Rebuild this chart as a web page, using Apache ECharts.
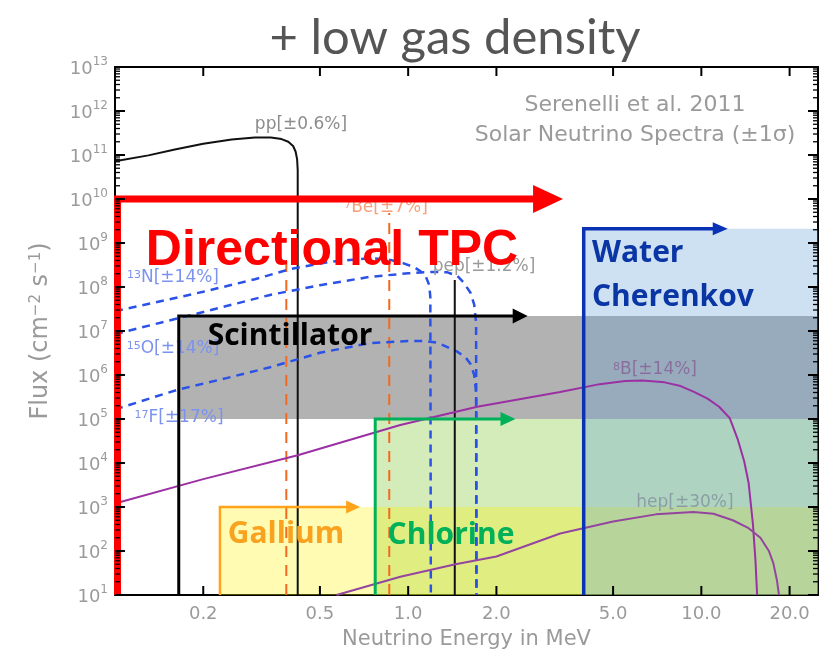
<!DOCTYPE html>
<html><head><meta charset="utf-8">
<script src="https://cdn.jsdelivr.net/npm/echarts@6/dist/echarts.min.js"></script>
<style>html,body{margin:0;padding:0;background:#fff}#c{width:834px;height:654px}</style>
</head><body><div id="c"></div>
<script>
// ---------- axes ----------
const xRange = [0.1, 25];
const yRange = [10, 1e13];
const xTickValues = [0.2, 0.5, 1, 2, 5, 10, 20];
const yDecadeExponents = [1,2,3,4,5,6,7,8,9,10,11,12,13];

// ---------- solar neutrino spectra [E (MeV), flux] ----------
const ppSpectrum = [[0.1,7.2e10],[0.13,9.8e10],[0.16,1.33e11],[0.2,1.8e11],[0.25,2.25e11],[0.3,2.5e11],[0.34,2.5e11],[0.37,2.3e11],[0.39,2e11],[0.405,1.6e11],[0.413,1.2e11],[0.418,8e10],[0.42,4.5e10],[0.42,10]];
const be7LineLow = [[0.384,10],[0.384,4.5e8]];
const be7LineHigh = [[0.862,10],[0.862,4.8e9]];
const n13Spectrum = [[0.1,2.8e7],[0.2,7.8e7],[0.3,1.5e8],[0.4,2.6e8],[0.55,3.8e8],[0.74,4.5e8],[0.86,4.2e8],[0.96,3.5e8],[1.05,2.8e8],[1.1,2.3e8],[1.15,1.7e8],[1.18,1.1e8],[1.19,6e7],[1.195,10]];
const o15Spectrum = [[0.1,8.5e6],[0.2,2.7e7],[0.338,6.6e7],[0.5,1.1e8],[0.74,1.7e8],[1.0,2.05e8],[1.2,2.2e8],[1.36,2.15e8],[1.47,1.8e8],[1.54,1.3e8],[1.63,7.5e7],[1.68,4e7],[1.705,1.5e7],[1.71,10]];
const f17Spectrum = [[0.1,1.65e5],[0.163,4.6e5],[0.24,8.5e5],[0.338,1.5e6],[0.5,3.2e6],[0.74,5.3e6],[1.0,5.9e6],[1.15,5.9e6],[1.26,5.4e6],[1.47,3.4e6],[1.57,2.5e6],[1.63,1.8e6],[1.68,1e6],[1.705,4e5],[1.71,10]];
const pepLine = [[1.442,10],[1.442,1.45e8]];
const b8Spectrum = [[0.1,1.2e3],[0.2,4.3e3],[0.42,1.5e4],[0.94,7.3e4],[1.72,1.9e5],[3.3,4.1e5],[4.5,6.2e5],[5.5,7.3e5],[6.3,7.5e5],[7.5,6.8e5],[8.5,5.6e5],[9.4,4.2e5],[10.5,2.9e5],[11.5,1.9e5],[12.5,1.05e5],[13.3,3.5e4],[14,1.1e4],[14.5,3.5e3],[15,4e2],[15.3,60],[15.5,10]];
const hepSpectrum = [[0.57,10],[0.94,26],[1.45,50],[2.0,75],[3.3,250],[5,470],[7,680],[9.4,770],[11,700],[12.8,500],[14.5,330],[15.9,200],[17,100],[17.6,53],[18.1,22],[18.4,10]];

// ---------- detector regions: vertical threshold line, top edge, arrow head ----------
const tpcOutline = [[0.102,10],[0.102,1e10],[3.0,1e10]];
const scintOutline = [[0.165,10],[0.165,2.2e7],[2.41,2.2e7]];
const waterOutline = [[3.97,10],[3.97,2.1e9],[11.6,2.1e9]];
const chlorineOutline = [[0.772,10],[0.772,1e5],[2.19,1e5]];
const galliumOutline = [[0.228,10],[0.228,1e3],[0.649,1e3]];
const scintArea = [[0.165,1e5],[25,2.2e7]];
const chlorineArea = [[0.772,10],[25,1e5]];
const galliumArea = [[0.228,10],[25,1e3]];
const waterArea = [[3.97,10],[25,2.1e9]];

const FONT = "'DejaVu Sans', sans-serif";
const chart = echarts.init(document.getElementById('c'), null, {renderer:'canvas'});

function curve(name, data, color, width, dash, z) {
  return {name, type:'line', data, showSymbol:false, symbol:'none', silent:true,
    xAxisIndex:0, yAxisIndex:0, z: z || 2,
    lineStyle:{color, width, type: dash || 'solid'}, animation:false};
}
function area(name, box, color, z) {
  return {name, type:'line', data:[], xAxisIndex:0, yAxisIndex:0, z, silent:true, animation:false,
    markArea:{silent:true, itemStyle:{color, borderWidth:0},
      data:[[{coord:box[0]},{coord:box[1]}]]}};
}
function outline(name, pts, color, width, head) {
  const n = pts.length;
  const b = pts[n-1];
  const back = [Math.pow(10, Math.log10(b[0]) - 0.02), b[1]];
  return {name, type:'line', data:pts, showSymbol:false, symbol:'none', silent:true, z:10, animation:false,
    xAxisIndex:0, yAxisIndex:0,
    lineStyle:{color, width, join:'miter', cap:'butt'},
    markLine:{silent:true, animation:false, symbol:['none','triangle'], symbolSize:head,
      label:{show:false}, lineStyle:{color, width, type:'solid'},
      data:[[{coord:back},{coord:b}]]}};
}

const majorTicks = yDecadeExponents.map(e => Math.pow(10,e));
const minorTicks = [];
yDecadeExponents.slice(0,-1).forEach(e => { for (let k=2;k<=9;k++) minorTicks.push(k*Math.pow(10,e)); });

const yBase = {type:'log', logBase:10, min:yRange[0], max:yRange[1], splitLine:{show:false},
  axisTick:{show:false}, axisLine:{show:true, lineStyle:{color:'#000', width:2}}};
const xBase = {type:'log', logBase:10, min:xRange[0], max:xRange[1], splitLine:{show:false},
  axisTick:{show:false}, axisLine:{show:true, lineStyle:{color:'#000', width:2}}};

const labelColor = '#9a9a9a';
let gid = 0;
const txt = (x, y, text, font, fill, align, z, rich) => ({id:'t'+(gid++), type:'text', x, y, z: z||100, silent:true,
  style:{text, font, fill, textAlign: align||'center', textVerticalAlign:'middle', rich: rich}});
const supRich = (color, size) => ({sup:{fontSize:size, fill:color, color, fontFamily:FONT, verticalAlign:'top', lineHeight:size+2}});

const option = {
  animation:false,
  backgroundColor:'#fff',
  grid:{left:115, right:16, top:67, bottom:59, containLabel:false, outerBoundsMode:'none'},
  xAxis:[
    Object.assign({}, xBase, {position:'bottom',
      name:'Neutrino Energy in MeV', nameLocation:'middle', nameGap:34,
      nameTextStyle:{color:labelColor, fontSize:21, fontFamily:FONT},
      axisLabel:{show:true, customValues:xTickValues, color:labelColor, fontSize:18, fontFamily:FONT, margin:10,
        formatter: v => Number(v).toFixed(1)}}),
    Object.assign({}, xBase, {position:'top', axisLabel:{show:false}})
  ],
  yAxis:[
    Object.assign({}, yBase, {position:'left', interval:1,
      name:'Flux (cm{sup|−2} s{sup|−1})', nameLocation:'middle', nameGap:62, nameRotate:90,
      nameTextStyle:{color:labelColor, fontSize:24, fontFamily:FONT,
        rich:{sup:{fontSize:15, color:labelColor, fontFamily:FONT, verticalAlign:'top', lineHeight:16}}},
      axisLabel:{show:true, customValues:majorTicks, margin:7,
        formatter: v => '{b|10}{s|' + Math.round(Math.log10(v)) + '}',
        rich:{b:{fontSize:18, color:labelColor, fontFamily:FONT, lineHeight:22, verticalAlign:'bottom'},
              s:{fontSize:12, color:labelColor, fontFamily:FONT, lineHeight:22, verticalAlign:'top'}}}}),
    Object.assign({}, yBase, {position:'right', axisLabel:{show:false}})
  ],
  series:[
    curve('pp', ppSpectrum, '#111', 2),
    curve('7Be a', be7LineLow, '#f26a21', 2, [11,8]),
    curve('7Be b', be7LineHigh, '#f26a21', 2, [11,8]),
    curve('13N', n13Spectrum, '#2b52e6', 2.5, [8,6]),
    curve('15O', o15Spectrum, '#2b52e6', 2.5, [8,6]),
    curve('17F', f17Spectrum, '#2b52e6', 2.5, [8,6]),
    curve('pep', pepLine, '#111', 2),
    curve('8B', b8Spectrum, '#9b30a3', 2),
    curve('hep', hepSpectrum, '#94459f', 2),
    area('scint area', scintArea, 'rgba(0,0,0,0.3)', 3),
    area('chlorine area', chlorineArea, 'rgba(146,208,80,0.4)', 4),
    area('gallium area', galliumArea, 'rgba(255,242,0,0.3)', 5),
    area('water area', waterArea, 'rgba(91,155,213,0.3)', 6),
    outline('Directional TPC', tpcOutline, '#ff0000', 7, [28,30]),
    outline('Scintillator', scintOutline, '#000', 3, [15,15]),
    outline('Water Cherenkov', waterOutline, '#0a32b4', 3.5, [13,15]),
    outline('Chlorine', chlorineOutline, '#00b159', 3, [14,15]),
    outline('Gallium', galliumOutline, '#ffa31a', 2.5, [13,14])
  ],
  graphic:[
    txt(455, 38, '+ low gas density', "49px Lato, 'Open Sans', sans-serif", '#555'),
    txt(635, 105, 'Serenelli et al. 2011', "22px " + FONT, '#9a9a9a'),
    txt(635, 135, 'Solar Neutrino Spectra (±1σ)', "22px " + FONT, '#9a9a9a'),
    txt(301, 125, 'pp[±0.6%]', "17px " + FONT, '#8c8c8c', 'center', 7),
    txt(386, 208, '{sup|7}Be[±7%]', "17px " + FONT, '#f5a07a', 'center', 7, supRich('#f5a07a', 11)),
    txt(173, 278, '{sup|13}N[±14%]', "17px " + FONT, '#7b93ee', 'center', 7, supRich('#7b93ee', 11)),
    txt(173, 349, '{sup|15}O[±14%]', "17px " + FONT, '#7b93ee', 'center', 7, supRich('#7b93ee', 11)),
    txt(179, 418, '{sup|17}F[±17%]', "17px " + FONT, '#7b93ee', 'center', 7, supRich('#7b93ee', 11)),
    txt(484, 267, 'pep[±1.2%]', "17px " + FONT, '#9a9a9a', 'center', 7),
    txt(655, 370, '{sup|8}B[±14%]', "17px " + FONT, '#8a6f9e', 'center', 7, supRich('#8a6f9e', 11)),
    txt(685, 503, 'hep[±30%]', "17px " + FONT, '#8c9ea3', 'center', 7),
    txt(332, 251, 'Directional TPC', "bold 50px 'Liberation Sans', Arial, sans-serif", '#ff0000'),
    txt(290, 336, 'Scintillator', "bold 30px 'Open Sans', sans-serif", '#000', 'center'),
    txt(592, 253, 'Water', "bold 30px 'Open Sans', sans-serif", '#0a35a5', 'left'),
    txt(592, 297, 'Cherenkov', "bold 30px 'Open Sans', sans-serif", '#0a35a5', 'left'),
    txt(286, 534, 'Gallium', "bold 30px 'Open Sans', sans-serif", '#f9a21f'),
    txt(451, 535, 'Chlorine', "bold 30px 'Open Sans', sans-serif", '#00b159')
  ]
};
chart.setOption(option);

// ---------- inward axis ticks, placed through the axes' own scales ----------
const gridRect = chart.getModel().getComponent('grid', 0).coordinateSystem.getRect();
const L = gridRect.x, R = gridRect.x + gridRect.width, T = gridRect.y, B = gridRect.y + gridRect.height;
const tickEls = [];
const seg = (x1, y1, x2, y2, w) => tickEls.push({id:'k'+(gid++), type:'line', z:50, silent:true,
  shape:{x1, y1, x2, y2}, style:{stroke:'#000', lineWidth:w}});
xTickValues.forEach(v => {
  const px = chart.convertToPixel({xAxisIndex:0}, v);
  seg(px, B, px, B-9, 2); seg(px, T, px, T+9, 2);
});
majorTicks.forEach(v => {
  const py = chart.convertToPixel({yAxisIndex:0}, v);
  seg(L, py, L+10, py, 2); seg(R, py, R-10, py, 2);
});
minorTicks.forEach(v => {
  const py = chart.convertToPixel({yAxisIndex:0}, v);
  seg(L, py, L+5, py, 1.3); seg(R, py, R-5, py, 1.3);
});
chart.setOption({graphic: tickEls});
</script></body></html>
